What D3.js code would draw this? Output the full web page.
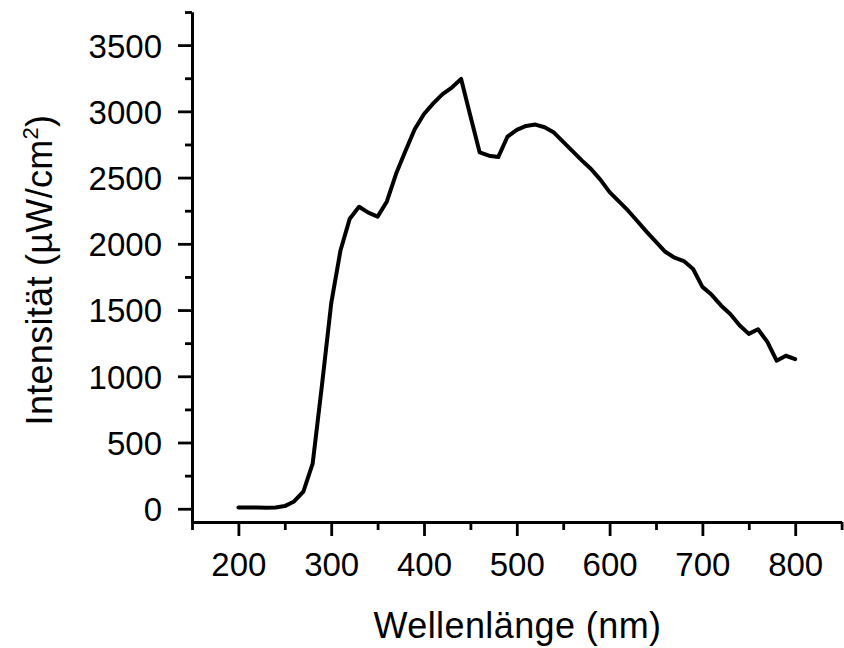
<!DOCTYPE html>
<html><head><meta charset="utf-8">
<script src="https://cdn.jsdelivr.net/npm/d3@7"></script>
<style>
html,body{margin:0;padding:0;background:#fff;}
svg text{font-family:"Liberation Sans",Arial,sans-serif;fill:#000;}
</style></head>
<body>
<svg id="chart" width="844" height="648"></svg>
<script>
const wavelengths = [200,210,220,230,240,250,260,270,280,290,300,310,320,330,340,350,360,370,380,390,400,410,420,430,440,450,460,470,480,490,500,510,520,530,540,550,560,570,580,590,600,610,620,630,640,650,660,670,680,690,700,710,720,730,740,750,760,770,780,790,800];
const intensity = [10,10,10,8,10,20,55,130,340,930,1550,1950,2190,2280,2235,2205,2320,2530,2700,2865,2980,3060,3130,3180,3245,2965,2690,2665,2655,2810,2860,2890,2900,2880,2840,2770,2700,2630,2565,2485,2390,2320,2250,2170,2090,2015,1940,1895,1870,1810,1675,1615,1535,1470,1385,1320,1355,1260,1118,1155,1130];
const xMajorTicks = [200,300,400,500,600,700,800];
const xMinorTicks = [150,250,350,450,550,650,750,850];
const yMajorTicks = [0,500,1000,1500,2000,2500,3000,3500];
const yMinorTicks = [250,750,1250,1750,2250,2750,3250,3750];
const xTitle = "Wellenlänge (nm)";

(function(){
const svg = d3.select("#chart");
const mLeft = 192, mRight = 841.6, mTop = 12, mBottom = 522;
const x = d3.scaleLinear().domain([150, 850]).range([mLeft, mRight]);
const y = d3.scaleLinear().domain([-100, 3750]).range([mBottom, mTop]);

const axisW = 2.8;
const gx = svg.append("g").attr("transform", `translate(0,${mBottom})`);
gx.call(d3.axisBottom(x).tickValues(xMajorTicks).tickSize(14).tickSizeOuter(0).tickPadding(17).tickFormat(d3.format("d")));
gx.append("g").call(d3.axisBottom(x).tickValues(xMinorTicks).tickSize(8).tickSizeOuter(0).tickFormat(""));
const gy = svg.append("g").attr("transform", `translate(${mLeft},0)`);
gy.call(d3.axisLeft(y).tickValues(yMajorTicks).tickSize(14).tickSizeOuter(0).tickPadding(16).tickFormat(d3.format("d")));
gy.append("g").call(d3.axisLeft(y).tickValues(yMinorTicks).tickSize(7).tickSizeOuter(0).tickFormat(""));

svg.selectAll(".domain").attr("stroke", "#000").attr("stroke-width", axisW);
svg.selectAll(".tick line").attr("stroke", "#000").attr("stroke-width", axisW);
svg.selectAll(".tick text").attr("font-size", 33).attr("font-family", "Liberation Sans, Arial, sans-serif");
gy.selectAll(".tick text").attr("dy", "0.36em");

const line = d3.line().x((d, i) => x(wavelengths[i])).y(d => y(d));
svg.append("path").datum(intensity)
  .attr("d", line).attr("fill", "none").attr("stroke", "#000")
  .attr("stroke-width", 4).attr("stroke-linejoin", "round").attr("stroke-linecap", "round");

svg.append("text").attr("x", 517.5).attr("y", 638)
  .attr("text-anchor", "middle").attr("font-size", 36).attr("letter-spacing", 0.4).text(xTitle);

const yt = svg.append("text").attr("transform", `translate(52,270) rotate(-90)`)
  .attr("text-anchor", "middle").attr("font-size", 36).attr("letter-spacing", 0.3);
yt.append("tspan").text("Intensität (µW/cm");
yt.append("tspan").attr("font-size", 22).attr("dy", -14).text("2");
yt.append("tspan").attr("dy", 14).text(")");
})();
</script>
</body></html>
